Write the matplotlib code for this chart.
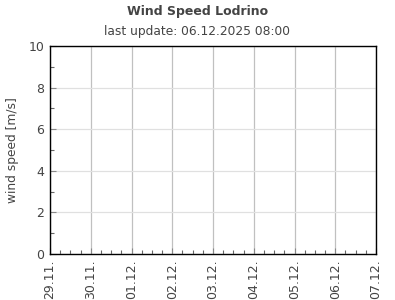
import matplotlib
matplotlib.use("Agg")
import matplotlib.pyplot as plt
import numpy as np

# data
day_labels = ["29.11.", "30.11.", "01.12.", "02.12.", "03.12.", "04.12.", "05.12.", "06.12.", "07.12."]
wind_hours = []   # no data shown
wind_speed = []
y_ticks = [0, 2, 4, 6, 8, 10]

fig = plt.figure(figsize=(3.95, 3.0), dpi=100)
W, H = 395, 300
ax = fig.add_axes([50 / W, 1 - 254 / H, 326 / W, 208 / H])

ax.plot(wind_hours, wind_speed, color="#1f77b4")

n_days = len(day_labels) - 1
ax.set_xlim(0, n_days * 24)
ax.set_ylim(0, 10)
ax.set_xticks(np.arange(0, n_days * 24 + 1, 24))
ax.set_xticklabels(day_labels, rotation=90, va="top", ha="center")
ax.set_xticks(np.arange(0, n_days * 24 + 1, 6), minor=True)
ax.set_yticks(y_ticks)
ax.set_yticks(np.arange(1, 10, 2), minor=True)

ax.grid(True, which="major", axis="x", color="#c0c0c0", linewidth=0.9)
ax.grid(True, which="major", axis="y", color="#e0e0e0", linewidth=0.9)
ax.set_axisbelow(True)

ax.tick_params(axis="both", which="major", direction="in", length=4, color="#888888",
               width=0.8, labelsize=9, labelcolor="#444444", pad=4)
ax.tick_params(axis="x", which="minor", direction="in", length=3, color="#666666", width=0.8)
ax.tick_params(axis="y", which="minor", direction="in", length=3, color="#666666", width=0.8)
ax.tick_params(axis="x", which="both", top=False)
ax.tick_params(axis="y", which="both", right=False)

for s in ax.spines.values():
    s.set_color("black")
    s.set_linewidth(1.0)

ax.set_ylabel("wind speed [m/s]", fontsize=8.8, color="#444444", labelpad=7)

fig.text(0.5, 1 - 11 / H, "Wind Speed Lodrino", ha="center", va="center",
         fontsize=9, fontweight="bold", color="#444444")
fig.text(0.5, 1 - 31 / H, "last update: 06.12.2025 08:00", ha="center", va="center",
         fontsize=8.8, color="#444444")

fig.savefig("out.png", dpi=100)
